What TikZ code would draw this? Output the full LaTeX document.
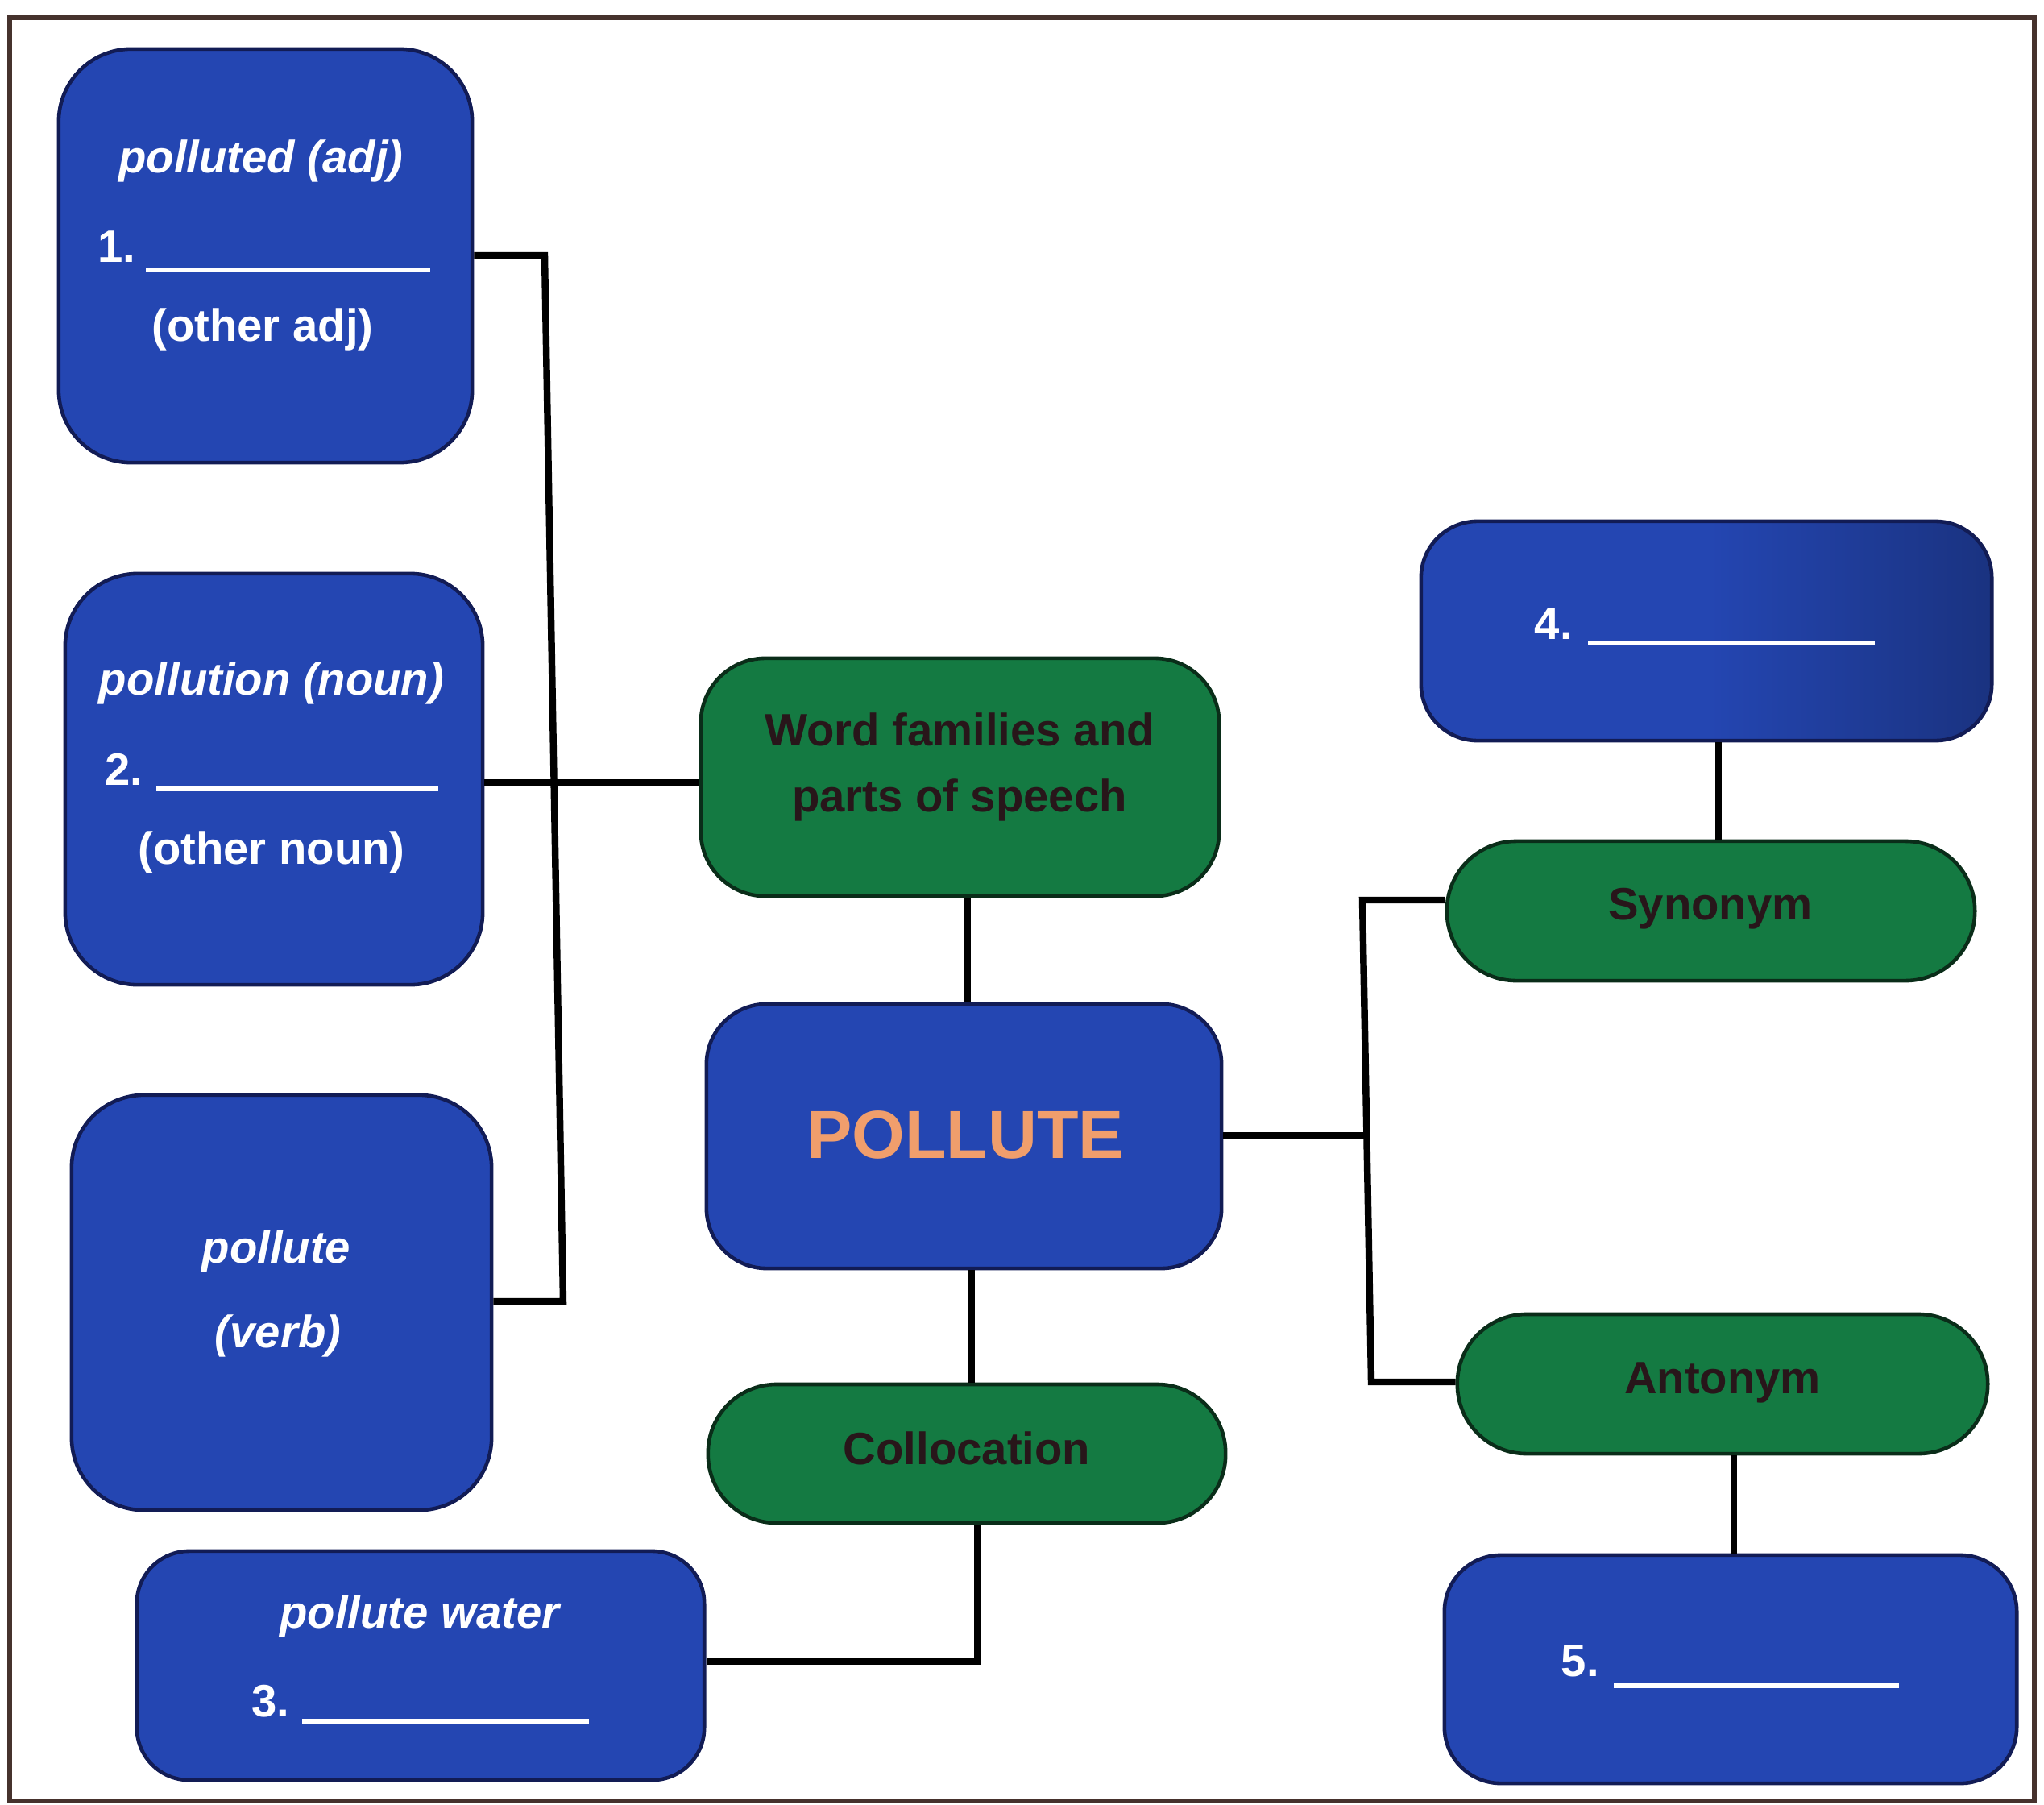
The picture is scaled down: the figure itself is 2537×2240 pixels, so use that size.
\documentclass[tikz,border=0pt]{standalone}
\usepackage{fontspec}
\setmainfont{Liberation Sans}
\definecolor{boxblue}{RGB}{36,70,178}
\definecolor{boxblueedge}{RGB}{18,28,85}
\definecolor{boxgreen}{RGB}{20,122,66}
\definecolor{boxgreenedge}{RGB}{10,45,25}
\definecolor{darktext}{RGB}{40,22,26}
\definecolor{pollutec}{RGB}{240,158,108}
\definecolor{framec}{RGB}{70,50,45}
\begin{document}
\begin{tikzpicture}[x=0.01cm,y=-0.01cm,
  bluebox/.style={draw=boxblueedge, line width=1.3pt, fill=boxblue, inner sep=0pt},
  greenbox/.style={draw=boxgreenedge, line width=1.3pt, fill=boxgreen, inner sep=0pt},
  wtxt/.style={text=white, inner sep=0pt, font=\bfseries\fontsize{16}{19}\selectfont},
  witxt/.style={text=white, inner sep=0pt, font=\bfseries\itshape\fontsize{16}{19}\selectfont},
  gtxt/.style={text=darktext, inner sep=0pt, align=center, font=\bfseries\fontsize{16}{23.5}\selectfont},
  blank/.style={draw=white, line width=1.8pt},
  conn/.style={draw=black, line width=2.4pt}]
\useasboundingbox (0,0) rectangle (2537,2240);
\fill[white] (0,0) rectangle (2537,2240);
\draw[framec, line width=1.5pt] (12,22) rectangle (2525,2235);

% left column
\node[bluebox, rounded corners=0.9cm, minimum width=5.13cm, minimum height=5.13cm] (A) at (329.5,317.5) {};
\node[bluebox, rounded corners=0.9cm, minimum width=5.18cm, minimum height=5.10cm] (B) at (340,967) {};
\node[bluebox, rounded corners=0.9cm, minimum width=5.21cm, minimum height=5.15cm] (C) at (349.5,1616.5) {};
\node[bluebox, rounded corners=0.65cm, minimum width=7.04cm, minimum height=2.84cm] (D) at (522,2067) {};

% centre column
\node[greenbox, rounded corners=0.8cm, minimum width=6.43cm, minimum height=2.95cm] (W) at (1191.5,964.5) {};
\node[bluebox, rounded corners=0.75cm, minimum width=6.39cm, minimum height=3.28cm] (P) at (1196.5,1410) {};
\node[greenbox, rounded corners=0.85cm, minimum width=6.42cm, minimum height=1.72cm] (Coll) at (1200,1804) {};

% right column
\node[draw=boxblueedge, line width=1.3pt, inner sep=0pt, rounded corners=0.7cm, minimum width=7.08cm, minimum height=2.72cm,
      left color=boxblue, right color=boxblue!72!black, middle color=boxblue] (Q) at (2118,783) {};
\node[greenbox, rounded corners=0.86cm, minimum width=6.55cm, minimum height=1.73cm] (Syn) at (2123.5,1130.5) {};
\node[greenbox, rounded corners=0.86cm, minimum width=6.58cm, minimum height=1.73cm] (Ant) at (2138,1717.5) {};
\node[bluebox, rounded corners=0.7cm, minimum width=7.10cm, minimum height=2.83cm] (R) at (2148,2071.5) {};

% texts
\node[witxt] (a1) at (324,200) {polluted (adj)};
\node[wtxt, anchor=base west] (a2) at (121,326) {1.};
\draw[blank] (181,335) -- (534,335);
\node[wtxt] (a3) at (326,409) {(other adj)};

\node[witxt] (b1) at (337,848) {pollution (noun)};
\node[wtxt, anchor=base west] (b2) at (130,974) {2.};
\draw[blank] (194,979) -- (544,979);
\node[wtxt] (b3) at (337,1058) {(other noun)};

\node[witxt] (c1) at (343,1553) {pollute};
\node[witxt] (c2) at (345,1658) {(verb)};

\node[witxt] (d1) at (521,2006) {pollute water};
\node[wtxt, anchor=base west] (d2) at (312,2130) {3.};
\draw[blank] (375,2136) -- (731,2136);

\node[gtxt] (w1) at (1191,952) {Word families and\\parts of speech};
\node[inner sep=0pt, text=pollutec, font=\bfseries\fontsize{24}{28}\selectfont] (p1) at (1198,1408) {POLLUTE};
\node[gtxt] (k1) at (1200,1797) {Collocation};

\node[wtxt, anchor=base west] (q1) at (1904,793) {4.};
\draw[blank] (1971,798) -- (2327,798);
\node[gtxt] (s1) at (2123,1128) {Synonym};
\node[gtxt] (t1) at (2138,1716) {Antonym};
\node[wtxt, anchor=base west] (r1) at (1937,2080) {5.};
\draw[blank] (2003,2092) -- (2357,2092);

% connectors
\coordinate (lt) at (676,317);
\coordinate (lb) at (699,1615);
\coordinate (yb) at (0,971);
\draw[conn] (A.east |- lt) -- (lt) -- (lb) -- (C.east |- lb);
\draw[conn] (B.east |- yb) -- (W.west |- yb);

\coordinate (wp) at (1201,0);
\coordinate (pc) at (1206,0);
\draw[conn] (wp |- W.south) -- (wp |- P.north);
\draw[conn] (pc |- P.south) -- (pc |- Coll.north);
\coordinate (cd) at (1213,2062);
\draw[conn] (cd |- Coll.south) -- (cd) -- (D.east |- cd);

\coordinate (rt) at (1691,1117);
\coordinate (rb) at (1702,1715);
\coordinate (rm) at (1696,1409);
\draw[conn] (Syn.west |- rt) -- (rt) -- (rb) -- (Ant.west |- rb);
\draw[conn] (P.east |- rm) -- (rm);

\coordinate (qs) at (2133,0);
\coordinate (ar) at (2152,0);
\draw[conn] (qs |- Q.south) -- (qs |- Syn.north);
\draw[conn] (ar |- Ant.south) -- (ar |- R.north);
\end{tikzpicture}
\end{document}
